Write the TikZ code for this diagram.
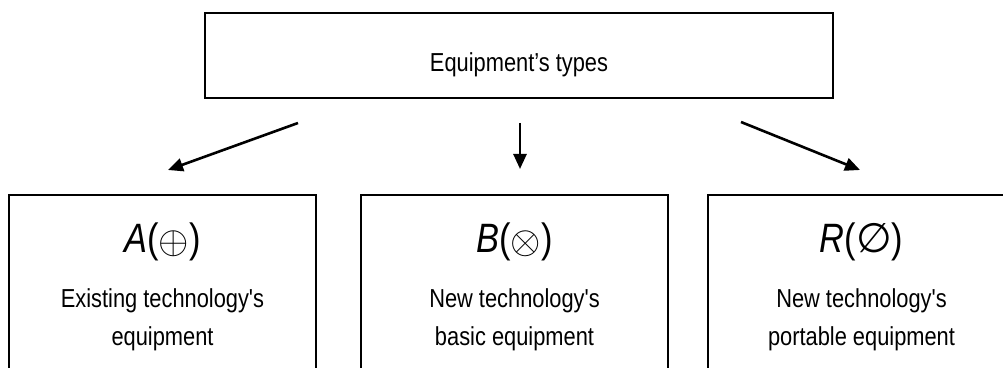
\documentclass[tikz,border=0pt]{standalone}
\usepackage{graphicx}
\usepackage{fontspec}
\newfontfamily\mainf[FakeStretch=0.84]{Liberation Sans}
\newfontfamily\symf{DejaVu Sans}
\usetikzlibrary{arrows.meta}
\newcommand{\bigsym}[1]{\scalebox{3.9}{\fontsize{10}{12}\selectfont$#1$}}
\begin{document}
\begin{tikzpicture}[x=1pt,y=1pt,
  box/.style={draw, line width=1.6pt, inner sep=0pt, minimum width=307pt, minimum height=200pt, anchor=north},
  topbox/.style={draw, line width=2pt, inner sep=0pt, minimum width=628pt, minimum height=85pt},
  lbl/.style={anchor=base, inner sep=0pt, font=\mainf\fontsize{26}{30}\selectfont},
  big/.style={anchor=base, inner sep=0pt, font=\mainf\fontsize{41}{41}\selectfont},
  arr/.style={line width=2.6pt, -{Triangle[length=15pt,width=13pt]}}]
\useasboundingbox (0,0) rectangle (1003,367);
\clip (0,0) rectangle (1003,367);
% top box
\node[topbox] (top) at (519,311.5) {};
\node[lbl] (toptext) at (519,295) {Equipment’s types};
% bottom boxes
\node[box] (boxA) at (162.5,173) {};
\node[box] (boxB) at (514.5,173) {};
\node[box] (boxR) at (861.5,173) {};
% box A texts
\node[big] (symA) at (162.5,114) {\textit{A}(\bigsym{\oplus})};
\node[lbl] (a1) at (162.5,60) {Existing technology's};
\node[lbl] (a2) at (162.5,22) {equipment};
% box B texts
\node[big] (symB) at (514.5,114) {\textit{B}(\bigsym{\otimes})};
\node[lbl] (b1) at (514.5,60) {New technology's};
\node[lbl] (b2) at (514.5,22) {basic equipment};
% box R texts
\node[big] (symR) at (861.5,114) {\textit{R}({\symf\fontsize{41}{41}\selectfont ∅})};
\node[lbl] (r1) at (861.5,60) {New technology's};
\node[lbl] (r2) at (861.5,22) {portable equipment};
% arrows
\coordinate (sA) at (298,244);
\coordinate (eA) at (168,197);
\coordinate (sB) at (520,244);
\coordinate (eB) at (520,198);
\coordinate (sR) at (741,245);
\coordinate (eR) at (860,197);
\draw[arr] (sA) -- (eA);
\draw[arr] (sB) -- (eB);
\draw[arr] (sR) -- (eR);
\end{tikzpicture}
\end{document}
